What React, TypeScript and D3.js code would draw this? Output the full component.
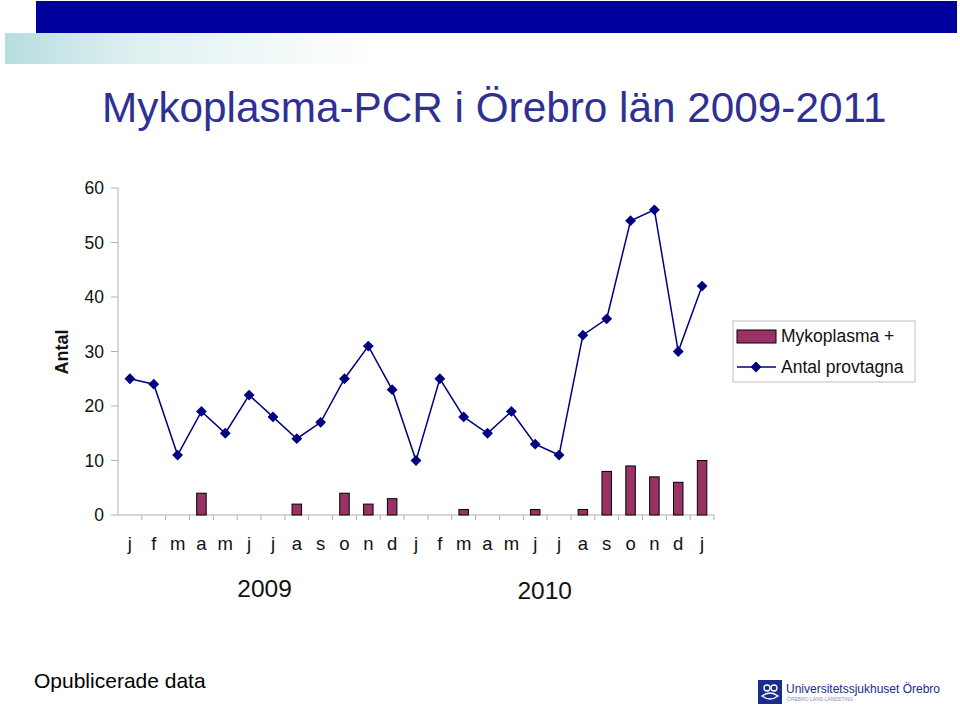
import React from "react";
import * as d3 from "d3";

const months = ["j","f","m","a","m","j","j","a","s","o","n","d","j","f","m","a","m","j","j","a","s","o","n","d","j"];
const provtagna = [25,24,11,19,15,22,18,14,17,25,31,23,10,25,18,15,19,13,11,33,36,54,56,30,42];
const positiva = [0,0,0,4,0,0,0,2,0,4,2,3,0,0,1,0,0,1,0,1,8,9,7,6,10];
const yTicks = [0,10,20,30,40,50,60];
const years = [{ label: "2009", at: 5.65, dy: 0 }, { label: "2010", at: 17.4, dy: 2 }];

const W = 960, H = 706;
const X0 = 118, X1 = 714, Y0 = 515, Y1 = 188;
const FONT = "Liberation Sans, Arial, sans-serif";

export default function App() {
  const idx = months.map((_, i) => String(i));
  const x = d3.scaleBand<string>().domain(idx).range([X0, X1]).padding(0);
  const y = d3.scaleLinear().domain([0, 60]).range([Y0, Y1]);
  const bw = x.bandwidth();
  const cx = (i: number) => X0 + bw * (i + 0.5);
  const line = d3.line<number>().x((_, i) => cx(i)).y((d) => y(d));
  const diamond = d3.symbol().type(d3.symbolDiamond2).size(75)();
  const barW = 9.5;

  return (
    <svg width={W} height={H} style={{ position: "absolute", left: 0, top: 0, background: "#fff" }} fontFamily={FONT}>
      <defs>
        <linearGradient id="fade" x1="0" x2="1" y1="0" y2="0">
          <stop offset="0" stopColor="#b7dde0" />
          <stop offset="0.35" stopColor="#dff0f1" />
          <stop offset="1" stopColor="#ffffff" />
        </linearGradient>
      </defs>
      <rect x={0} y={0} width={W} height={H} fill="#fff" />
      <rect x={5} y={33} width={370} height={31} fill="url(#fade)" />
      <rect x={36} y={1} width={921} height={32} fill="#00009c" />
      <text x={102} y={122} fontSize={42.3} fill="#2e3192">Mykoplasma-PCR i Örebro län 2009-2011</text>

      {/* axes */}
      <line x1={X0} x2={X0} y1={Y1} y2={Y0} stroke="#b0b0b0" strokeWidth={1} />
      <line x1={X0} x2={X1} y1={Y0} y2={Y0} stroke="#b0b0b0" strokeWidth={1} />
      {yTicks.map((t) => (
        <g key={t}>
          <line x1={X0 - 7} x2={X0} y1={y(t)} y2={y(t)} stroke="#b0b0b0" />
          <text x={104} y={y(t)} dy="0.35em" textAnchor="end" fontSize={17.5} fill="#111">{t}</text>
        </g>
      ))}
      {months.map((_, i) => (
        <line key={"xt" + i} x1={X0 + bw * (i + 1)} x2={X0 + bw * (i + 1)} y1={Y0} y2={Y0 + 5} stroke="#b0b0b0" />
      ))}
      <text transform={`translate(68,352) rotate(-90)`} textAnchor="middle" fontSize={18} fontWeight="bold" fill="#111">Antal</text>

      {/* bars */}
      {positiva.map((v, i) =>
        v > 0 ? (
          <rect key={"b" + i} x={cx(i) - barW / 2} y={y(v)} width={barW} height={Y0 - y(v)} fill="#993366" stroke="#000" strokeWidth={1} />
        ) : null
      )}

      {/* line */}
      <path d={line(provtagna) || ""} fill="none" stroke="#000080" strokeWidth={1.5} />
      {provtagna.map((v, i) => (
        <path key={"p" + i} d={diamond || ""} transform={`translate(${cx(i)},${y(v)})`} fill="#000080" />
      ))}

      {/* x labels */}
      {months.map((m, i) => (
        <text key={"xl" + i} x={cx(i)} y={550} textAnchor="middle" fontSize={18.5} fill="#111">{m}</text>
      ))}
      {years.map((yr) => (
        <text key={yr.label} x={cx(yr.at)} y={597 + yr.dy} textAnchor="middle" fontSize={24.5} fill="#111">{yr.label}</text>
      ))}

      {/* legend */}
      <rect x={733} y={321} width={182} height={61} fill="#fff" stroke="#c0c0c0" />
      <rect x={737} y={330} width={39} height={13} fill="#993366" stroke="#000" />
      <text x={781} y={336} dy="0.35em" fontSize={17.5} fill="#111">Mykoplasma +</text>
      <line x1={737} x2={776} y1={367} y2={367} stroke="#000080" strokeWidth={1.5} />
      <path d={diamond || ""} transform="translate(756,367)" fill="#000080" />
      <text x={781} y={367} dy="0.35em" fontSize={17.5} fill="#111">Antal provtagna</text>

      <text x={34} y={688} fontSize={21} fill="#000">Opublicerade data</text>

      {/* logo */}
      <rect x={758} y={680} width={24} height={24} fill="#1a2c8c" />
      <circle cx={767} cy={688} r={3} fill="none" stroke="#fff" strokeWidth={1.3} />
      <circle cx={774} cy={688} r={3} fill="none" stroke="#fff" strokeWidth={1.3} />
      <path d="M762,696 q8,-6 16,0 q-8,6 -16,0z" fill="none" stroke="#fff" strokeWidth={1.3} />
      <text x={786} y={693} fontSize={13} fill="#1a2c8c" textLength={154} lengthAdjust="spacingAndGlyphs">Universitetssjukhuset Örebro</text>
      <text x={787} y={701} fontSize={5} fill="#8890b0">ÖREBRO LÄNS LANDSTING</text>
    </svg>
  );
}
